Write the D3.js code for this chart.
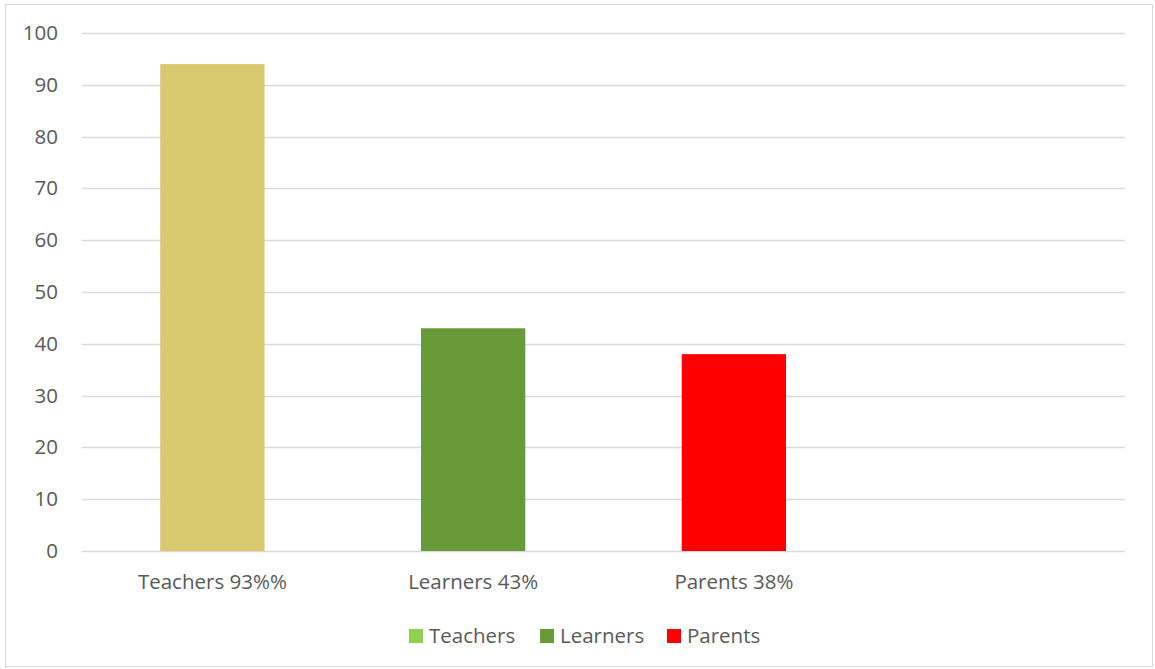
<!DOCTYPE html>
<html>
<head>
<meta charset="utf-8">
<script src="https://cdn.jsdelivr.net/npm/d3@7"></script>
<style>
  body { margin: 0; background: #fff; }
  text { font-family: "Open Sans", "Liberation Sans", sans-serif; fill: #595959; }
</style>
</head>
<body>
<div id="chart"></div>
<script>
// chart data
let categories = ["Teachers 93%%", "Learners 43%", "Parents 38%", ""];
let values = [94, 43, 38, null];
let barColors = ["#D9C96E", "#689A39", "#FF0000", "#FFFFFF"];
let legendNames = ["Teachers", "Learners", "Parents"];
let legendColors = ["#92D050", "#689A39", "#FF0000"];
let yTicks = [0, 10, 20, 30, 40, 50, 60, 70, 80, 90, 100];

let width = 1155, height = 669;
let margin = {top: 33, right: 30, bottom: 118, left: 82};
let fontSize = "20.5px";

let svg = d3.select("#chart").append("svg")
    .attr("width", width)
    .attr("height", height);

// outer frame
svg.append("rect")
    .attr("x", 5.5).attr("y", 4.5)
    .attr("width", 1147).attr("height", 662)
    .attr("fill", "#fff")
    .attr("stroke", "#D9D9D9");

let x = d3.scaleBand()
    .domain(d3.range(categories.length))
    .range([margin.left, width - margin.right])
    .paddingInner(0.6)
    .paddingOuter(0.3);

let y = d3.scaleLinear()
    .domain([0, 100])
    .range([height - margin.bottom, margin.top]);

// gridlines
svg.append("g")
    .selectAll("line")
    .data(yTicks)
    .enter().append("line")
    .attr("x1", margin.left)
    .attr("x2", width - margin.right)
    .attr("y1", d => Math.round(y(d)) + 0.5)
    .attr("y2", d => Math.round(y(d)) + 0.5)
    .attr("stroke", "#D9D9D9")
    .attr("stroke-width", 1.5);

// y axis labels
let yAxis = d3.axisLeft(y).tickValues(yTicks).tickSize(0).tickPadding(0);
let yg = svg.append("g")
    .attr("transform", `translate(${58}, 0)`)
    .call(yAxis);
yg.select(".domain").remove();
yg.selectAll("text")
    .style("font-size", fontSize)
    .attr("fill", "#595959");

// bars
svg.append("g")
    .selectAll("rect")
    .data(values)
    .enter().filter(d => d !== null).append("rect")
    .attr("x", (d, i) => x(i))
    .attr("y", d => y(d))
    .attr("width", x.bandwidth())
    .attr("height", d => y(0) - y(d))
    .attr("fill", (d, i) => barColors[i]);

// x axis labels
let xAxis = d3.axisBottom(x).tickFormat(i => categories[i]).tickSize(0).tickPadding(0);
let xg = svg.append("g")
    .attr("transform", `translate(0, ${y(0) + 23})`)
    .call(xAxis);
xg.select(".domain").remove();
xg.selectAll("text")
    .style("font-size", fontSize)
    .attr("fill", "#595959");

// legend
let legendX = [409, 540, 667];
let legend = svg.append("g")
    .selectAll("g")
    .data(legendNames)
    .enter().append("g")
    .attr("transform", (d, i) => `translate(${legendX[i]}, 629)`);

legend.append("rect")
    .attr("width", 14)
    .attr("height", 14)
    .attr("fill", (d, i) => legendColors[i]);

legend.append("text")
    .attr("x", 20)
    .attr("y", 7)
    .attr("dy", "0.35em")
    .style("font-size", fontSize)
    .text(d => d);
</script>
</body>
</html>
